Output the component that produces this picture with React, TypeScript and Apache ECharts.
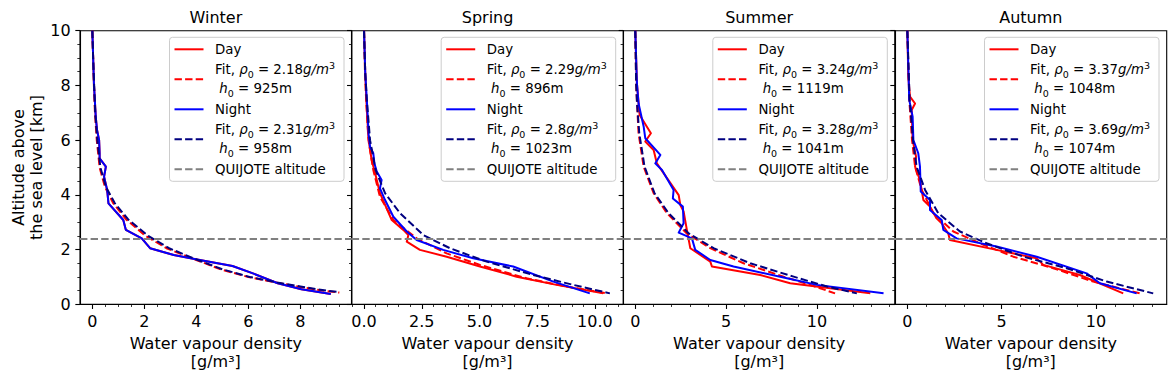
import { useEffect, useRef } from 'react';
import * as echarts from 'echarts';

// ---------------- data ----------------
const seasons = ['Winter', 'Spring', 'Summer', 'Autumn'];
const quijoteAltitude = 2.4; // km

const fitDayRho = ['2.18', '2.29', '3.24', '3.37'];
const fitDayH0 = ['925', '896', '1119', '1048'];
const fitNightRho = ['2.31', '2.8', '3.28', '3.69'];
const fitNightH0 = ['958', '1023', '1041', '1074'];

const xMinBySeason = [-0.475, -0.535, -0.66, -0.655];
const xMaxBySeason = [9.975, 11.235, 14.3, 13.755];
const xMajorTicks = [
  [0, 2, 4, 6, 8],
  [0, 2.5, 5, 7.5, 10],
  [0, 5, 10],
  [0, 5, 10],
];
const xMinorStep = [0.5, 0.5, 1, 1];
const xLabelDecimals = [0, 1, 0, 0];
const yMin = 0;
const yMax = 10;
const yStep = 2;

// [water vapour density g/m3, altitude km]
const winterNight = [
  [0.0, 10], [0.06, 8.08], [0.13, 6.86], [0.18, 6.37], [0.26, 6.0], [0.28, 5.52], [0.28, 5.33],
  [0.52, 5.03], [0.45, 4.66], [0.57, 4.18], [0.62, 3.69], [1.19, 3.08], [1.29, 2.72],
  [1.9, 2.41], [2.22, 2.05], [3.13, 1.8], [4.03, 1.64], [5.39, 1.4], [6.23, 1.11],
  [7.13, 0.77], [8.04, 0.55], [9.17, 0.38],
];
const winterDay = [
  [0.0, 10], [0.06, 8.08], [0.13, 6.86], [0.18, 6.37], [0.26, 6.0], [0.28, 5.52], [0.28, 5.33],
  [0.52, 5.03], [0.45, 4.66], [0.57, 4.18], [0.62, 3.69], [1.19, 3.08], [1.29, 2.72],
  [1.9, 2.41], [2.22, 2.05], [3.13, 1.8], [4.03, 1.64], [5.39, 1.4], [6.23, 1.11],
  [7.13, 0.77], [8.04, 0.55], [9.17, 0.38],
];
const winterFitDay = [
  [0.0, 10], [0.03, 9], [0.06, 8], [0.1, 7], [0.17, 6], [0.28, 5], [0.48, 4.3], [0.8, 3.7],
  [1.3, 3.1], [2.05, 2.5], [2.85, 2.05], [4.0, 1.62], [4.95, 1.27], [6.0, 1.0], [7.1, 0.79],
  [8.0, 0.63], [9.0, 0.48], [9.5, 0.43],
];
const winterFitNight = [
  [0.0, 10], [0.03, 9], [0.07, 8], [0.11, 7], [0.19, 6], [0.31, 5], [0.52, 4.3], [0.86, 3.7],
  [1.38, 3.1], [2.15, 2.5], [2.95, 2.05], [4.05, 1.62], [5.0, 1.28], [6.05, 1.0], [7.1, 0.8],
  [8.0, 0.65], [9.0, 0.5], [9.45, 0.45],
];

const springDay = [
  [0.0, 10], [0.05, 8.5], [0.1, 7.47], [0.18, 6.2], [0.24, 5.76], [0.33, 5.27], [0.48, 4.79],
  [0.69, 4.06], [1.2, 3.08], [1.7, 2.72], [1.92, 2.53], [1.85, 2.29], [2.42, 1.99],
  [3.58, 1.74], [5.02, 1.38], [6.61, 1.01], [8.34, 0.71], [10.36, 0.4],
];
const springNight = [
  [0.0, 10], [0.05, 8.5], [0.12, 7.47], [0.2, 6.2], [0.26, 5.76], [0.4, 5.52], [0.45, 5.15],
  [0.55, 4.85], [0.76, 4.54], [0.69, 4.24], [0.91, 3.81], [1.27, 3.2], [1.85, 2.66],
  [2.28, 2.35], [3.43, 1.99], [4.73, 1.68], [6.46, 1.38], [8.2, 0.83], [9.78, 0.4],
];
const springFitDay = [
  [0.0, 10], [0.04, 8.5], [0.09, 7.47], [0.19, 6.0], [0.4, 4.91], [0.69, 3.93], [1.27, 3.08],
  [2.28, 2.41], [3.58, 1.86], [5.02, 1.44], [7.04, 0.95], [8.77, 0.65], [10.5, 0.4],
];
const springFitNight = [
  [0.0, 10], [0.05, 8.5], [0.12, 7.47], [0.26, 6.0], [0.5, 4.91], [0.91, 4.06], [1.56, 3.33],
  [2.57, 2.53], [3.72, 2.05], [5.31, 1.56], [7.33, 1.07], [9.06, 0.71], [10.65, 0.4],
];

const summerDay = [
  [0.0, 10], [0.09, 8.08], [0.24, 6.92], [0.86, 6.25], [0.55, 5.95], [1.01, 5.64], [1.19, 5.15],
  [2.39, 3.99], [2.48, 3.63], [2.66, 3.39], [2.84, 2.72], [3.03, 2.05], [4.13, 1.56],
  [4.22, 1.38], [6.88, 1.07], [8.53, 0.77], [12.94, 0.4],
];
const summerNight = [
  [0.0, 10], [0.09, 8.08], [0.18, 7.34], [0.46, 6.5], [0.55, 6.07], [1.38, 5.46], [1.1, 5.15],
  [1.47, 4.91], [2.11, 4.18], [2.07, 3.87], [2.62, 3.57], [2.66, 2.96], [2.39, 2.62],
  [3.12, 2.41], [3.3, 1.99], [4.13, 1.62], [5.41, 1.38], [8.35, 0.95], [10.0, 0.71],
  [13.67, 0.4],
];
const summerFitDay = [
  [0.0, 10], [0.05, 8.0], [0.1, 7.3], [0.18, 6.25], [0.46, 5.03], [1.01, 4.06], [1.74, 3.33],
  [2.84, 2.59], [4.13, 2.05], [5.96, 1.5], [8.17, 1.01], [9.63, 0.71], [11.0, 0.4],
];
const summerFitNight = [
  [0.0, 10], [0.05, 8.0], [0.1, 7.3], [0.22, 6.25], [0.51, 5.03], [1.06, 4.06], [1.83, 3.33],
  [2.94, 2.59], [4.31, 2.05], [6.33, 1.5], [8.72, 1.01], [10.55, 0.65], [12.2, 0.4],
];

const autumnDay = [
  [0.0, 10], [0.05, 8.32], [0.14, 7.59], [0.41, 7.34], [0.23, 7.1], [0.28, 6.0], [0.46, 5.4],
  [0.41, 5.03], [0.67, 4.54], [0.85, 3.81], [1.2, 3.57], [1.55, 3.14], [1.82, 2.96],
  [2.17, 2.59], [2.26, 2.35], [4.73, 1.99], [6.86, 1.68], [7.21, 1.44], [9.15, 1.07],
  [11.45, 0.4],
];
const autumnNight = [
  [0.0, 10], [0.1, 7.47], [0.28, 6.86], [0.32, 6.0], [0.58, 5.52], [0.67, 5.03], [0.71, 4.12],
  [1.2, 3.81], [1.2, 3.45], [1.82, 3.08], [1.91, 2.72], [2.61, 2.41], [4.73, 2.11],
  [6.86, 1.74], [9.51, 1.13], [10.21, 0.77], [12.16, 0.4],
];
const autumnFitDay = [
  [0.0, 10], [0.1, 7.5], [0.25, 6.0], [0.41, 5.03], [0.76, 4.18], [1.38, 3.33], [2.44, 2.66],
  [3.85, 2.23], [5.62, 1.74], [7.74, 1.32], [9.86, 0.83], [12.33, 0.4],
];
const autumnFitNight = [
  [0.0, 10], [0.12, 7.5], [0.3, 6.0], [0.49, 5.03], [0.94, 4.18], [1.64, 3.33], [2.79, 2.66],
  [4.2, 2.23], [6.15, 1.74], [8.45, 1.32], [10.57, 0.83], [13.04, 0.4],
];

const dayProfiles = [winterDay, springDay, summerDay, autumnDay];
const nightProfiles = [winterNight, springNight, summerNight, autumnNight];
const dayFits = [winterFitDay, springFitDay, summerFitDay, autumnFitDay];
const nightFits = [winterFitNight, springFitNight, summerFitNight, autumnFitNight];

// ---------------- layout & style ----------------
const W = 1176;
const H = 384;
const FONT = 'DejaVu Sans';
const plotLefts = [80, 351.7, 623.3, 895];
const plotTop = 30.7;
const plotWidth = 271.7;
const plotHeight = 273.6;
const DASH = [7.4, 3.2];
const RED = '#ff0000';
const BLUE = '#0000ff';
const NAVY = '#000080';
const GREY = '#808080';
const LEGEND_FS = 13.33;

const fitName = (rho: string, h0: string) => `Fit, ρ0 = ${rho}g/m3 h0 = ${h0}m`;
const fitLabel = (rho: string, h0: string) =>
  `Fit, {it|ρ}{sub|0} = ${rho}{it|g/m}{sup|3}\n {it|h}{sub|0} = ${h0}m`;

const legendLabels: Record<string, string> = {};
seasons.forEach((_, i) => {
  legendLabels[fitName(fitDayRho[i], fitDayH0[i])] = fitLabel(fitDayRho[i], fitDayH0[i]);
  legendLabels[fitName(fitNightRho[i], fitNightH0[i])] = fitLabel(fitNightRho[i], fitNightH0[i]);
});

function minorValues(i: number) {
  const out: number[] = [];
  const s = xMinorStep[i];
  for (let k = Math.ceil(xMinBySeason[i] / s); k * s <= xMaxBySeason[i] + 1e-9; k++) {
    const v = +(k * s).toFixed(6);
    if (!xMajorTicks[i].some((m) => Math.abs(m - v) < 1e-9)) out.push(v);
  }
  return out;
}

function buildOption() {
  const axisLineStyle = { color: '#000', width: 1.1 };
  const grid = plotLefts.map((l) => ({
    left: l,
    top: plotTop,
    width: plotWidth,
    height: plotHeight,
    show: true,
    borderColor: '#000',
    borderWidth: 1.1,
    backgroundColor: 'transparent',
    containLabel: false,
    outerBoundsMode: 'none',
  }));

  const xAxis: any[] = [];
  seasons.forEach((_, i) => {
    xAxis.push({
      type: 'value',
      gridIndex: i,
      position: 'bottom',
      min: xMinBySeason[i],
      max: xMaxBySeason[i],
      axisLine: { show: true, onZero: false, lineStyle: axisLineStyle },
      axisTick: {
        show: true,
        inside: false,
        length: 4.67,
        customValues: xMajorTicks[i],
        lineStyle: axisLineStyle,
      },
      axisLabel: {
        show: true,
        customValues: xMajorTicks[i],
        margin: 9.3,
        formatter: (v: number) => Number(v).toFixed(xLabelDecimals[i]),
        fontFamily: FONT,
        fontSize: 16,
        lineHeight: 16,
        color: '#000',
      },
      splitLine: { show: false },
      minorTick: { show: false },
      minorSplitLine: { show: false },
      name: 'Water vapour density\n[g/m³]',
      nameLocation: 'middle',
      nameGap: 29.5,
      nameTextStyle: { fontFamily: FONT, fontSize: 16, lineHeight: 18, color: '#000' },
    });
    xAxis.push({
      type: 'value',
      gridIndex: i,
      position: 'bottom',
      min: xMinBySeason[i],
      max: xMaxBySeason[i],
      axisLine: { show: false, onZero: false },
      axisTick: {
        show: true,
        inside: false,
        length: 2.67,
        customValues: minorValues(i),
        lineStyle: { color: '#000', width: 0.8 },
      },
      axisLabel: { show: false },
      splitLine: { show: false },
    });
  });

  const yAxis = seasons.map((_, i) => ({
    type: 'value',
    gridIndex: i,
    position: 'left',
    min: yMin,
    max: yMax,
    interval: yStep,
    axisLine: { show: true, onZero: false, lineStyle: axisLineStyle },
    axisTick: { show: true, inside: false, length: 4.67, lineStyle: axisLineStyle },
    minorTick: { show: true, splitNumber: 4, length: 2.67, lineStyle: { color: '#000', width: 0.8 } },
    axisLabel: {
      show: i === 0,
      margin: 9.3,
      fontFamily: FONT,
      fontSize: 16,
      color: '#000',
    },
    splitLine: { show: false },
    minorSplitLine: { show: false },
    name: i === 0 ? 'Altitude above\nthe sea level [km]' : '',
    nameLocation: 'middle',
    nameRotate: 90,
    nameGap: 35,
    nameTextStyle: { fontFamily: FONT, fontSize: 16, lineHeight: 18, color: '#000' },
  }));

  const line = (name: string, data: number[][], color: string, dashed: boolean, i: number) => ({
    type: 'line',
    name,
    data,
    xAxisIndex: 2 * i,
    yAxisIndex: i,
    symbol: 'none',
    showSymbol: false,
    clip: true,
    silent: true,
    lineStyle: { color, width: 2, type: dashed ? DASH : 'solid', join: 'round' },
    itemStyle: { color },
    emphasis: { disabled: true },
  });

  const series: any[] = [];
  seasons.forEach((_, i) => {
    series.push(line('Day', dayProfiles[i], RED, false, i));
    series.push(line(fitName(fitDayRho[i], fitDayH0[i]), dayFits[i], RED, true, i));
    series.push(line('Night', nightProfiles[i], BLUE, false, i));
    series.push(line(fitName(fitNightRho[i], fitNightH0[i]), nightFits[i], NAVY, true, i));
    series.push({
      type: 'line',
      name: 'QUIJOTE altitude',
      data: [],
      xAxisIndex: 2 * i,
      yAxisIndex: i,
      symbol: 'none',
      silent: true,
      lineStyle: { color: GREY, width: 2, type: DASH },
      itemStyle: { color: GREY },
      markLine: {
        silent: true,
        symbol: ['none', 'none'],
        label: { show: false },
        emphasis: { disabled: true },
        lineStyle: { color: GREY, width: 2, type: DASH },
        data: [{ yAxis: quijoteAltitude }],
      },
    });
  });

  const legend = seasons.map((_, i) => ({
    orient: 'vertical',
    right: W - (plotLefts[i] + plotWidth) + 7.7,
    top: 37.3,
    data: [
      'Day',
      fitName(fitDayRho[i], fitDayH0[i]),
      'Night',
      fitName(fitNightRho[i], fitNightH0[i]),
      'QUIJOTE altitude',
    ],
    selectedMode: false,
    itemWidth: 29,
    itemHeight: 14,
    itemGap: 3,
    padding: [4, 9, 4, 4],
    backgroundColor: 'rgba(255,255,255,0.8)',
    borderColor: '#cccccc',
    borderWidth: 1,
    borderRadius: 3,
    lineStyle: { width: 2 },
    itemStyle: { opacity: 0, color: 'transparent', borderWidth: 0 },
    textStyle: {
      fontFamily: FONT,
      fontSize: LEGEND_FS,
      lineHeight: 16,
      color: '#000',
      padding: [0, 0, 0, 6.6],
      rich: {
        it: { fontFamily: FONT, fontSize: LEGEND_FS, lineHeight: 19, fontStyle: 'italic', color: '#000' },
        sub: { fontFamily: FONT, fontSize: 9.5, lineHeight: 12, verticalAlign: 'bottom', color: '#000' },
        sup: { fontFamily: FONT, fontSize: 9.5, lineHeight: 11, verticalAlign: 'top', color: '#000' },
      },
    },
    formatter: (name: string) => legendLabels[name] ?? name,
  }));

  const title = seasons.map((s, i) => ({
    text: s,
    left: plotLefts[i] + plotWidth / 2,
    top: 9.2,
    textAlign: 'center',
    padding: 0,
    textStyle: { fontFamily: FONT, fontSize: 16, fontWeight: 'normal', color: '#000', lineHeight: 16 },
  }));

  return {
    animation: false,
    backgroundColor: '#ffffff',
    textStyle: { fontFamily: FONT },
    title,
    legend,
    grid,
    xAxis,
    yAxis,
    series,
  };
}

export default function App() {
  const ref = useRef<HTMLDivElement>(null);
  useEffect(() => {
    if (!ref.current) return;
    const chart = echarts.init(ref.current, null, { renderer: 'svg', width: W, height: H });
    chart.setOption(buildOption() as any);
    return () => chart.dispose();
  }, []);
  return (
    <div
      ref={ref}
      style={{ position: 'absolute', left: 0, top: 0, width: W, height: H, background: '#fff' }}
    />
  );
}
